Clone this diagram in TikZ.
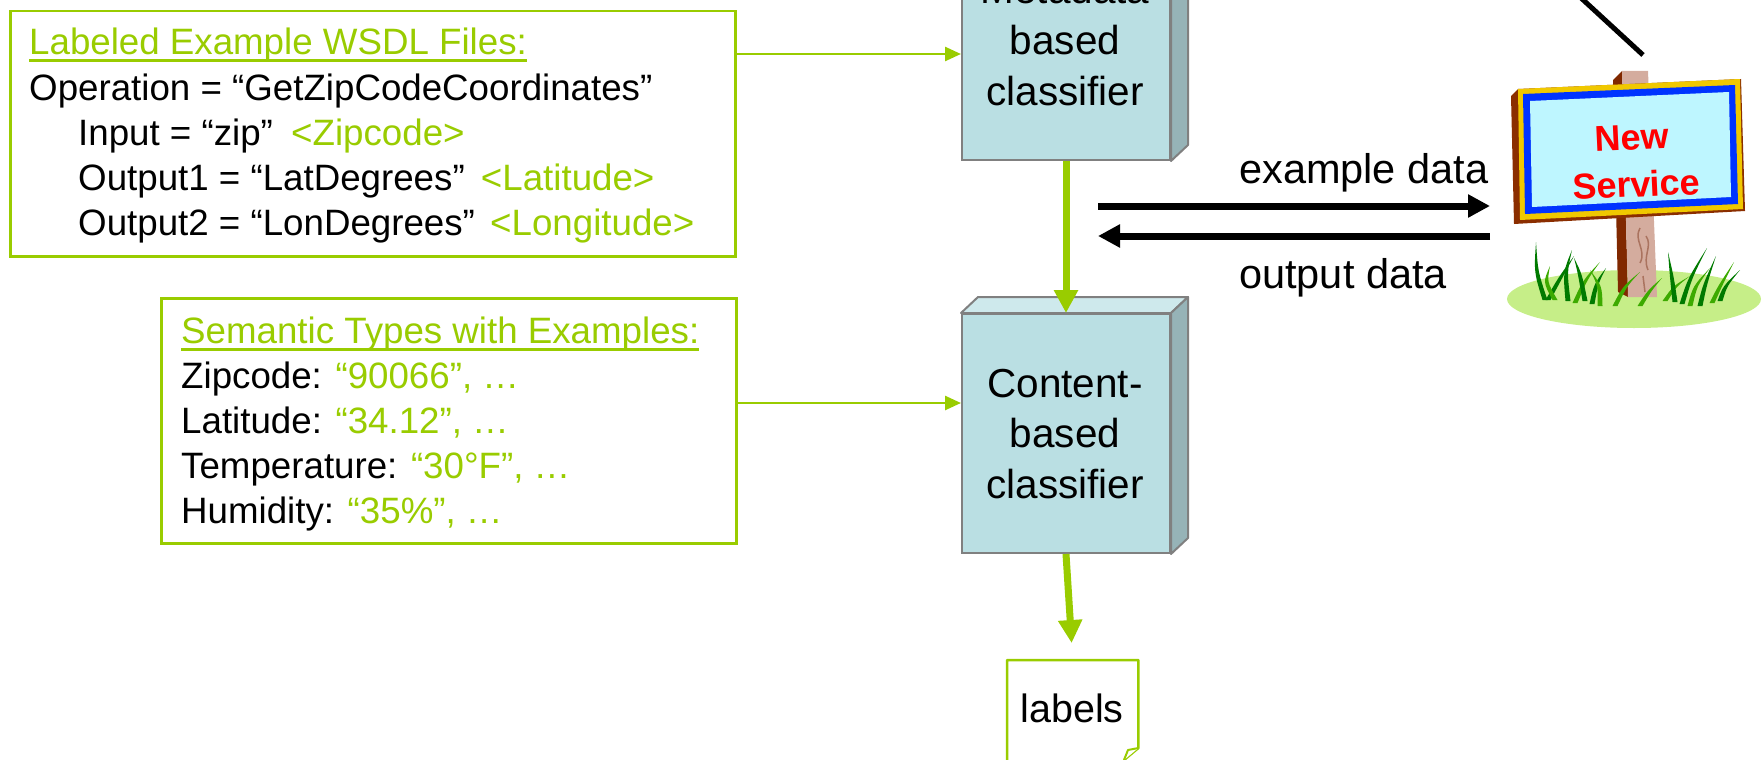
\documentclass[tikz,border=0pt]{standalone}
\usepackage{fontspec}
\setmainfont{Liberation Sans}
\usetikzlibrary{arrows.meta,calc}

\definecolor{lime}{RGB}{153,204,0}
\definecolor{faceF}{RGB}{186,223,227}
\definecolor{faceT}{RGB}{206,233,236}
\definecolor{faceS}{RGB}{150,179,183}
\definecolor{edgegray}{RGB}{128,128,128}
\definecolor{postdark}{RGB}{128,40,0}
\definecolor{posttan}{RGB}{212,172,158}
\definecolor{grain}{RGB}{170,115,95}
\definecolor{boardbrown}{RGB}{139,46,0}
\definecolor{boardyellow}{RGB}{240,200,0}
\definecolor{boardblue}{RGB}{0,51,255}
\definecolor{boardcyan}{RGB}{190,246,255}
\definecolor{lawn}{RGB}{198,238,136}
\definecolor{grassdark}{RGB}{0,122,0}
\definecolor{grasslight}{RGB}{60,170,0}

% one grass blade: base x, base y, control x, control y, tip x, tip y, colour
\newcommand{\grassblade}[7]{%
  \fill[#7] (#1-2.5,#2) .. controls (#3-2,#4) .. (#5,#6)
            .. controls (#3+2,#4) .. (#1+2.5,#2) -- cycle;}

% top and side faces of a box drawn behind/right of a front node
\newcommand{\boxfaces}[1]{%
  \filldraw[fill=faceT,draw=edgegray,line width=2pt,line join=round]
    (#1.north west) -- ++(17,-16) -- ($(#1.north east)+(17,-16)$) -- (#1.north east) -- cycle;
  \filldraw[fill=faceS,draw=edgegray,line width=2pt,line join=round]
    (#1.north east) -- ++(17,-16) -- ($(#1.south east)+(17,-16)$) -- (#1.south east) -- cycle;}

\begin{document}
\begin{tikzpicture}[x=1pt,y=-1pt,
  frame/.style={draw=lime,line width=2.5pt,fill=white,inner sep=0pt,anchor=north west},
  txt/.style={anchor=base west,inner sep=0pt,font=\fontsize{36.7}{45}\selectfont},
  ctxt/.style={anchor=base,inner sep=0pt,font=\fontsize{40.5}{50}\selectfont},
  dtxt/.style={anchor=base west,inner sep=0pt,font=\fontsize{41.5}{50}\selectfont},
  classfront/.style={draw=edgegray,line width=2pt,fill=faceF,inner sep=0pt,
    minimum width=208pt,minimum height=239pt,anchor=north west},
  feed/.style={draw=lime,line width=2.5pt,-{Triangle[length=16pt,width=14pt]}},
  flow/.style={draw=lime,line width=7pt,-{Triangle[length=23pt,width=23pt]}},
  datarrow/.style={draw=black,line width=7pt,-{Triangle[length=22pt,width=22pt]}},
  signtxt/.style={anchor=base,inner sep=0pt,text=red,rotate=2.6,
    font=\fontsize{36}{36}\selectfont\bfseries},
  uline/.style={draw=lime,line width=3pt}
]
\useasboundingbox (0,0) rectangle (1762,760);
\clip (0,0) rectangle (1762,760);

% ---------- input boxes ----------
\node[frame,minimum width=725pt,minimum height=245pt] (wsdl) at (9,10) {};
\node[txt,text=lime] (w0) at (29,55) {Labeled Example WSDL Files:};
\draw[uline] ($(w0.base west)+(0,6)$) -- ($(w0.base east)+(0,6)$);
\node[txt] (w1) at (29,100) {Operation = “GetZipCodeCoordinates”};
\node[txt] (w2) at (78,145) {Input = “zip”\hspace{8pt} \textcolor{lime}{<Zipcode>}};
\node[txt] (w3) at (78,190) {Output1 = “LatDegrees”\hspace{6pt} \textcolor{lime}{<Latitude>}};
\node[txt] (w4) at (78,235) {Output2 = “LonDegrees”\hspace{5pt} \textcolor{lime}{<Longitude>}};

\node[frame,minimum width=575pt,minimum height=245pt] (types) at (160,297) {};
\node[txt,text=lime] (s0) at (181,343) {Semantic Types with Examples:};
\draw[uline] ($(s0.base west)+(0,6)$) -- ($(s0.base east)+(0,6)$);
\node[txt] (s1) at (181,388) {Zipcode: \textcolor{lime}{“90066”, …}};
\node[txt] (s2) at (181,433) {Latitude: \textcolor{lime}{“34.12”, …}};
\node[txt] (s3) at (181,478) {Temperature: \textcolor{lime}{“30°F”, …}};
\node[txt] (s4) at (181,523) {Humidity: \textcolor{lime}{“35\%”, …}};

% ---------- classifiers ----------
\node[classfront] (meta) at (961,-80) {};
\boxfaces{meta}
\node[ctxt] (m1) at (1065,4) {Metadata};
\node[ctxt] (m2) at (1065,55) {based};
\node[ctxt] (m3) at (1065,106) {classifier};

\node[classfront] (content) at (961,313) {};
\boxfaces{content}
\node[ctxt] (c1) at (1065,397) {Content-};
\node[ctxt] (c2) at (1065,447) {based};
\node[ctxt] (c3) at (1065,498) {classifier};

% ---------- output document ----------
\node[inner sep=0pt,minimum width=131pt,minimum height=110pt,anchor=north west] (labels) at (1007,660) {};
\draw[lime,line width=2.5pt,line join=round]
  (labels.south west) -- (labels.north west) -- (labels.north east)
  -- ($(labels.north east)+(0,88)$) -- ($(labels.north west)+(117,100)$);
\draw[lime,line width=2pt,line join=round,fill=white]
  ($(labels.north west)+(117,100)$) -- ($(labels.north west)+(121,90)$)
  -- ($(labels.north east)+(0,88)$);
\node[anchor=base,inner sep=0pt,font=\fontsize{39.5}{45}\selectfont] (labeltxt) at (1072,722) {labels};

% ---------- connectors ----------
\coordinate (rowA) at (0,54);
\coordinate (rowB) at (0,403);
\draw[feed] (wsdl.east |- rowA) -- (meta.west |- rowA);
\draw[feed] (types.east |- rowB) -- (content.west |- rowB);
\draw[flow] (meta.south) -- (content.north);
\draw[flow,shorten >=17pt] (content.south) -- (labels.north);

% ---------- data exchange with the service ----------
\coordinate (exL) at (1098,206);
\coordinate (exR) at (1490,206);
\coordinate (outR) at (1490,236);
\coordinate (outL) at (1098,236);
\draw[datarrow] (exL) -- (exR);
\draw[datarrow] (outR) -- (outL);
\node[dtxt] (extxt) at (1239,183) {example data};
\node[dtxt] (outtxt) at (1239,288) {output data};

% link from above into the sign
\coordinate (linkA) at (1580,-3);
\coordinate (linkB) at (1643,55);
\draw[line width=5pt] (linkA) -- (linkB);

% ---------- "New Service" sign ----------
\fill[lawn] (1634,299) ellipse [x radius=127, y radius=29];
% post
\fill[postdark] (1613,80) -- (1622,71) -- (1628,297) -- (1618,292) -- cycle;
\fill[posttan] (1622,71) -- (1648,71) -- (1657,297) -- (1628,297) -- cycle;
\draw[grain,line width=1.5pt] (1640,228) .. controls (1633,240) and (1647,250) .. (1640,263);
\draw[grain,line width=1.5pt] (1646,236) .. controls (1653,246) and (1642,256) .. (1648,270);
\draw[grain,line width=1.5pt] (1643,276) -- (1645,292);
% board
\fill[boardbrown] (1511,96) -- (1518,89) -- (1741,79) -- (1745,211) -- (1514,224) -- cycle;
\fill[boardyellow] (1518,89) -- (1740,79) -- (1743,209) -- (1520,220) -- cycle;
\fill[boardblue] (1523,94) -- (1735,85) -- (1738,204) -- (1525,214) -- cycle;
\fill[boardcyan] (1530,101) -- (1729,92) -- (1731,197) -- (1532,207) -- cycle;
\node[signtxt] (signnew) at (1632,150) {New};
\node[signtxt] (signsvc) at (1637,197) {Service};
% grass
\grassblade{1545}{300}{1536}{272}{1536}{242}{grassdark}
\grassblade{1548}{300}{1560}{278}{1574}{256}{grassdark}
\grassblade{1555}{300}{1545}{282}{1550}{266}{grasslight}
\grassblade{1568}{301}{1565}{272}{1572}{250}{grassdark}
\grassblade{1575}{303}{1585}{280}{1600}{262}{grasslight}
\grassblade{1585}{301}{1580}{274}{1574}{258}{grassdark}
\grassblade{1592}{304}{1596}{284}{1606}{268}{grassdark}
\grassblade{1600}{306}{1600}{286}{1590}{270}{grasslight}
\grassblade{1615}{306}{1625}{286}{1640}{272}{grasslight}
\grassblade{1640}{306}{1650}{290}{1662}{278}{grasslight}
\grassblade{1665}{301}{1675}{286}{1690}{276}{grasslight}
\grassblade{1675}{302}{1672}{278}{1668}{252}{grassdark}
\grassblade{1682}{304}{1690}{278}{1707}{248}{grassdark}
\grassblade{1690}{306}{1695}{286}{1710}{268}{grasslight}
\grassblade{1700}{306}{1705}{284}{1716}{256}{grassdark}
\grassblade{1712}{303}{1720}{286}{1734}{262}{grasslight}
\grassblade{1720}{301}{1725}{286}{1740}{270}{grassdark}
\end{tikzpicture}
\end{document}
